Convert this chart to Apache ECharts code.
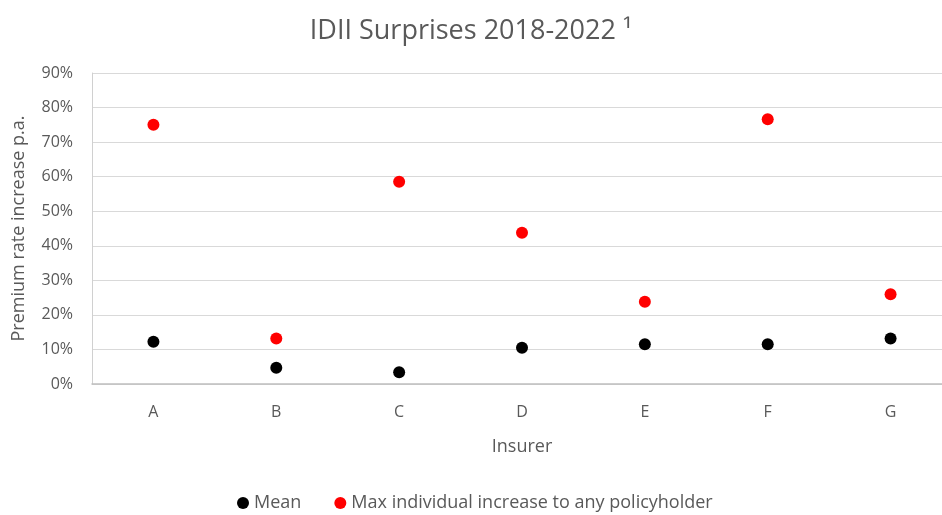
<!DOCTYPE html>
<html><head><meta charset="utf-8">
<script src="https://cdn.jsdelivr.net/npm/echarts@6/dist/echarts.min.js"></script>
<style>html,body{margin:0;padding:0;background:#fff}#c{width:942px;height:515px}</style>
</head><body><div id="c"></div>
<script>
const categories = ['A','B','C','D','E','F','G'];
const meanValues = [12.2, 4.7, 3.4, 10.5, 11.5, 11.5, 13.2];
const maxValues = [75.0, 13.2, 58.5, 43.8, 23.8, 76.6, 26.0];
const yTicks = [0,10,20,30,40,50,60,70,80,90];
const FONT = 'Open Sans';
const chart = echarts.init(document.getElementById('c'), null, {renderer:'canvas'});
chart.setOption({
  animation:false,
  textStyle:{fontFamily:FONT},
  title:{text:'IDII Surprises 2018-2022 \u00B9', left:'center', top:13,
    textStyle:{fontFamily:FONT, fontSize:27, fontWeight:'normal', color:'#595959'}},
  grid:{left:92, top:73, height:311, width:860, outerBoundsMode:'none', containLabel:false},
  legend:{top:489, left:232, itemGap:33, itemWidth:12, itemHeight:12,
    textStyle:{fontFamily:FONT, fontSize:18, color:'#595959'},
    data:[{name:'Mean', icon:'circle'},{name:'Max individual increase to any policyholder', icon:'circle'}]},
  xAxis:{type:'category', data:categories, name:'Insurer', nameLocation:'middle', nameGap:54,
    nameTextStyle:{fontFamily:FONT, fontSize:18, color:'#595959'},
    axisLine:{lineStyle:{color:'#bfbfbf', width:1.5}}, axisTick:{show:false},
    axisLabel:{fontFamily:FONT, fontSize:16, color:'#595959', margin:20}},
  yAxis:{type:'value', min:0, max:90, interval:10, name:'Premium rate increase p.a.',
    nameLocation:'middle', nameGap:64,
    nameTextStyle:{fontFamily:FONT, fontSize:18, color:'#595959'},
    axisLine:{show:true, lineStyle:{color:'#d0d0d0'}}, axisTick:{show:false},
    axisLabel:{fontFamily:FONT, fontSize:16, color:'#595959', margin:19, formatter:v=>v+'%'},
    splitLine:{lineStyle:{color:'#d9d9d9', width:1.2}}},
  series:[
    {name:'Mean', type:'scatter', data:meanValues, symbolSize:12, itemStyle:{color:'#000000', opacity:1}},
    {name:'Max individual increase to any policyholder', type:'scatter', data:maxValues, symbolSize:12, itemStyle:{color:'#ff0000', opacity:1}}
  ]
});
</script></body></html>
